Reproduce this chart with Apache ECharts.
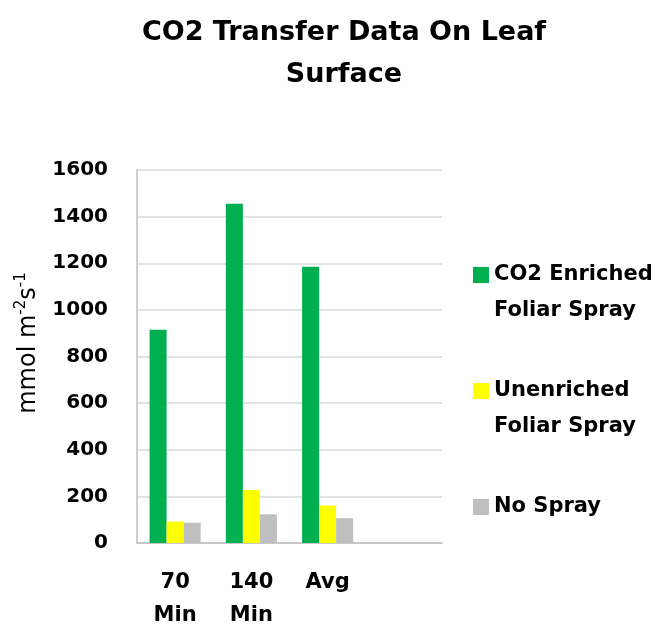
<!DOCTYPE html>
<html>
<head>
<meta charset="utf-8">
<script src="https://cdn.jsdelivr.net/npm/echarts@6/dist/echarts.min.js"></script>
<style>html,body{margin:0;padding:0;background:#fff}#c{width:667px;height:626px}</style>
</head>
<body>
<div id="c"></div>
<script>
var categories = ['70\nMin', '140\nMin', 'Avg', ''];
var seriesNames = ['CO2 Enriched Foliar Spray', 'Unenriched Foliar Spray', 'No Spray'];
var legendLabels = ['CO2 Enriched\nFoliar Spray', 'Unenriched\nFoliar Spray', 'No Spray'];
var co2Enriched = [915, 1455, 1185];
var unenriched = [92, 227, 160];
var noSpray = [87, 123, 106];
var yTicks = [0, 200, 400, 600, 800, 1000, 1200, 1400, 1600];
var colors = ['#00B050', '#FFFF00', '#BFBFBF'];

var FONT = 'DejaVu Sans';
var chart = echarts.init(document.getElementById('c'), null, {renderer: 'canvas'});
var labelMap = {};
seriesNames.forEach(function (n, i) {
  var parts = legendLabels[i].split('\n');
  // blank first line so the icon lines up with the first text line
  labelMap[n] = ' \n' + parts[0] + '\n' + (parts[1] || ' ');
});

var option = {
  animation: false,
  backgroundColor: '#ffffff',
  title: {
    text: 'CO2 Transfer Data On Leaf\nSurface',
    left: 339,
    top: 7,
    textAlign: 'center',
    textStyle: {fontFamily: FONT, fontWeight: 'bold', fontSize: 27, lineHeight: 42, color: '#000'}
  },
  grid: {left: 137, right: 225, top: 170, bottom: 83, containLabel: false, outerBoundsMode: 'none'},
  legend: {
    orient: 'vertical',
    left: 473,
    top: 221,
    itemWidth: 16,
    itemHeight: 16,
    itemGap: 8,
    padding: 0,
    icon: 'rect',
    formatter: function (n) { return labelMap[n]; },
    textStyle: {fontFamily: FONT, fontWeight: 'bold', fontSize: 21, lineHeight: 36, color: '#000'}
  },
  xAxis: {
    type: 'category',
    data: categories,
    axisLine: {show: true, lineStyle: {color: '#BFBFBF', width: 1.5}},
    axisTick: {show: false},
    axisLabel: {interval: 0, margin: 23, fontFamily: FONT, fontWeight: 'bold', fontSize: 21, lineHeight: 33, color: '#000'}
  },
  yAxis: {
    type: 'value',
    min: yTicks[0],
    max: yTicks[yTicks.length - 1],
    interval: yTicks[1] - yTicks[0],
    axisLine: {show: true, lineStyle: {color: '#BFBFBF', width: 1.5}},
    axisTick: {show: false},
    splitLine: {lineStyle: {color: '#D9D9D9', width: 1.5}},
    axisLabel: {margin: 29, fontFamily: FONT, fontWeight: 'bold', fontSize: 20, color: '#000',
      formatter: function (v) { return String(v); }}
  },
  graphic: [{
    type: 'text',
    x: 29,
    y: 343,
    rotation: Math.PI / 2,
    style: {
      text: '{n|mmol m}{s|-2}{n|s}{s|-1}',
      align: 'center',
      verticalAlign: 'middle',
      rich: {
        n: {fontFamily: FONT, fontSize: 24, lineHeight: 30, fill: '#000'},
        s: {fontFamily: FONT, fontSize: 15, lineHeight: 15, verticalAlign: 'top', fill: '#000'}
      }
    }
  }],
  series: [
    {name: seriesNames[0], type: 'bar', data: co2Enriched, itemStyle: {color: colors[0]}, barGap: '0%', barCategoryGap: '33%'},
    {name: seriesNames[1], type: 'bar', data: unenriched, itemStyle: {color: colors[1]}, barGap: '0%', barCategoryGap: '33%'},
    {name: seriesNames[2], type: 'bar', data: noSpray, itemStyle: {color: colors[2]}, barGap: '0%', barCategoryGap: '33%'}
  ]
};
chart.setOption(option);
</script>
</body>
</html>
